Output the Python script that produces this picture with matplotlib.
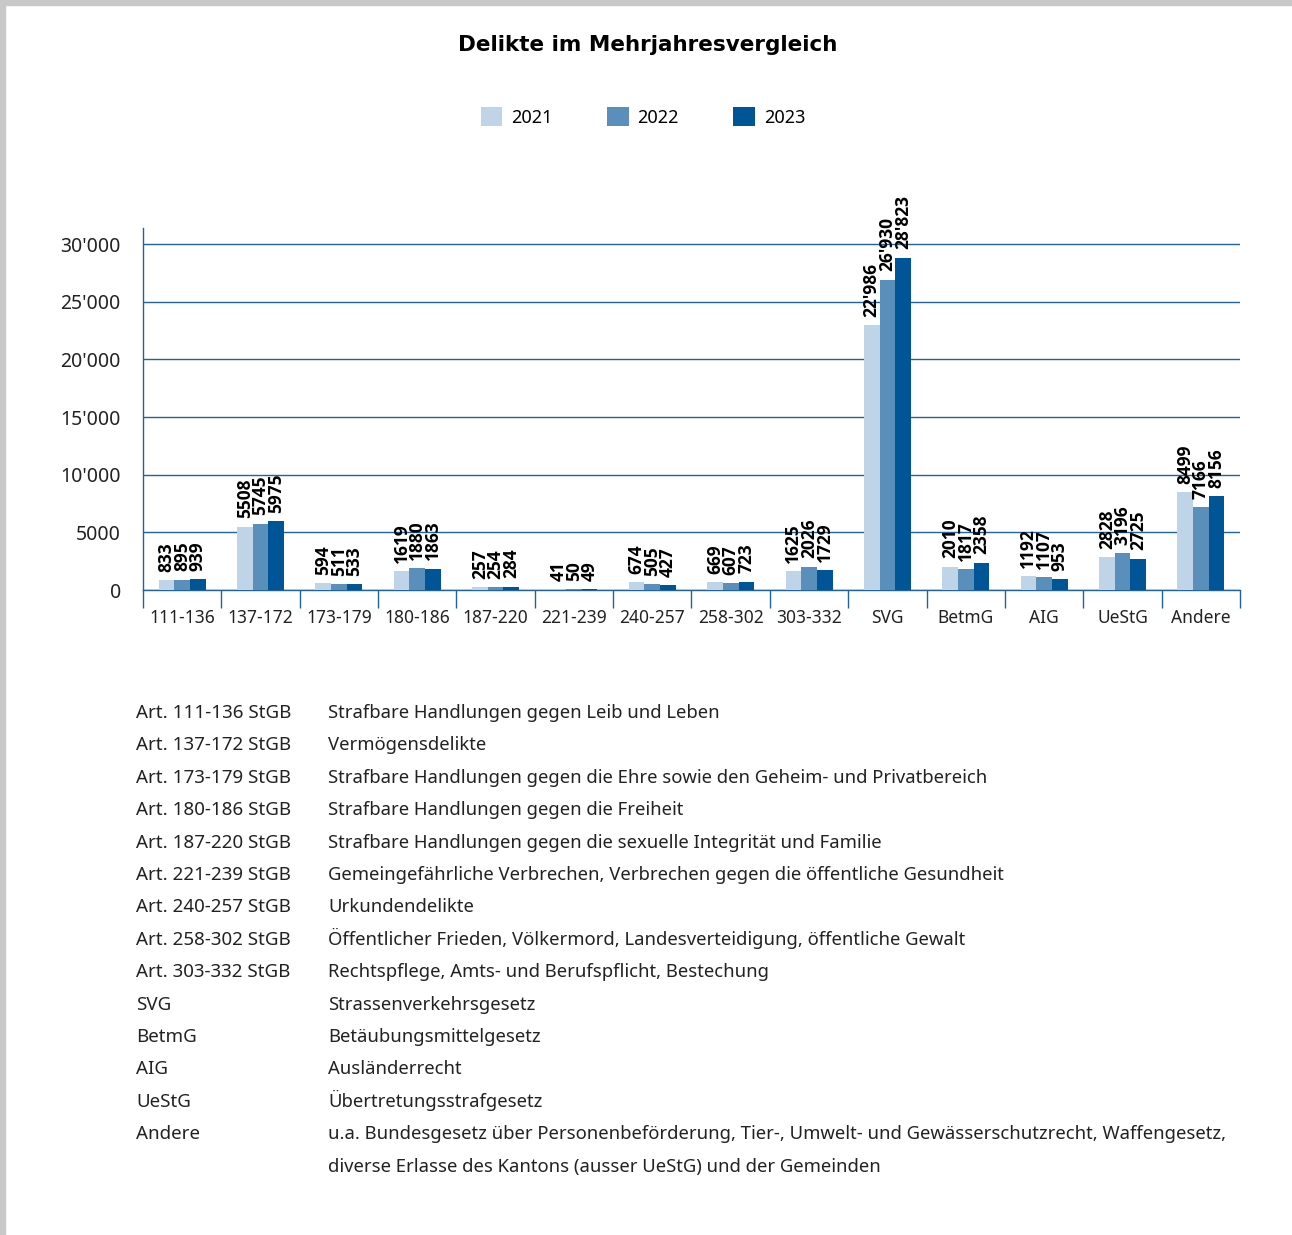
import numpy as np
import matplotlib
matplotlib.use("Agg")
import matplotlib.pyplot as plt
from matplotlib.patches import Rectangle

plt.rcParams['font.family'] = ['Noto Sans', 'DejaVu Sans']
BOLD = ['Open Sans', 'DejaVu Sans']

categories = ["111-136", "137-172", "173-179", "180-186", "187-220", "221-239", "240-257",
              "258-302", "303-332", "SVG", "BetmG", "AIG", "UeStG", "Andere"]
years = ["2021", "2022", "2023"]
v2021 = [833, 5508, 594, 1619, 257, 41, 674, 669, 1625, 22986, 2010, 1192, 2828, 8499]
v2022 = [895, 5745, 511, 1880, 254, 50, 505, 607, 2026, 26930, 1817, 1107, 3196, 7166]
v2023 = [939, 5975, 533, 1863, 284, 49, 427, 723, 1729, 28823, 2358, 953, 2725, 8156]
colors = ["#bfd4e6", "#5b8fbb", "#005596"]

legend_codes = ["Art. 111-136 StGB", "Art. 137-172 StGB", "Art. 173-179 StGB", "Art. 180-186 StGB",
                "Art. 187-220 StGB", "Art. 221-239 StGB", "Art. 240-257 StGB", "Art. 258-302 StGB",
                "Art. 303-332 StGB", "SVG", "BetmG", "AIG", "UeStG", "Andere"]
legend_texts = [
    "Strafbare Handlungen gegen Leib und Leben",
    "Vermögensdelikte",
    "Strafbare Handlungen gegen die Ehre sowie den Geheim- und Privatbereich",
    "Strafbare Handlungen gegen die Freiheit",
    "Strafbare Handlungen gegen die sexuelle Integrität und Familie",
    "Gemeingefährliche Verbrechen, Verbrechen gegen die öffentliche Gesundheit",
    "Urkundendelikte",
    "Öffentlicher Frieden, Völkermord, Landesverteidigung, öffentliche Gewalt",
    "Rechtspflege, Amts- und Berufspflicht, Bestechung",
    "Strassenverkehrsgesetz",
    "Betäubungsmittelgesetz",
    "Ausländerrecht",
    "Übertretungsstrafgesetz",
    "u.a. Bundesgesetz über Personenbeförderung, Tier-, Umwelt- und Gewässerschutzrecht, Waffengesetz,\ndiverse Erlasse des Kantons (ausser UeStG) und der Gemeinden",
]


def fmt(v):
    v = int(round(v))
    if abs(v) >= 10000:
        return "{:,}".format(v).replace(",", "'")
    return str(v)


W, H = 1292, 1235
fig = plt.figure(figsize=(W / 100, H / 100), dpi=100)
fig.patch.set_facecolor("white")
# grey frame at the top and left edge
fig.patches.append(Rectangle((0, 1 - 5 / H), 1, 5 / H, transform=fig.transFigure, color="#c8c8c8", zorder=0))
fig.patches.append(Rectangle((0, 0), 5 / W, 1, transform=fig.transFigure, color="#c8c8c8", zorder=0))

ax = fig.add_axes([143 / W, 1 - 590 / H, 1097 / W, (590 - 228) / H])

x = np.arange(len(categories))
bw = 0.2
blue = "#1f63a3"
series = [v2021, v2022, v2023]
bars = []
for i, (vals, c) in enumerate(zip(series, colors)):
    b = ax.bar(x + (i - 1) * bw, vals, bw, color=c, label=years[i], zorder=3)
    bars.append(b)
    for xi, v in zip(x + (i - 1) * bw, vals):
        ax.annotate(fmt(v), (xi, v), xytext=(0, 6), textcoords="offset points",
                    rotation=90, ha="center", va="bottom", fontsize=12.5,
                    fontweight="bold", family=BOLD, color="black", zorder=4)

ax.set_xlim(-0.5, len(categories) - 0.5)
ax.set_ylim(0, 31400)
ax.set_yticks(range(0, 30001, 5000))
ax.set_yticklabels([fmt(t) for t in range(0, 30001, 5000)], fontsize=14, color="#222222")
ax.tick_params(axis="y", length=0, pad=16)
ax.yaxis.grid(True, color=blue, linewidth=1)
ax.set_axisbelow(True)

ax.set_xticks(x)
ax.set_xticklabels(categories, fontsize=12.5, color="#222222")
ax.set_xticks(np.arange(-0.5, len(categories), 1), minor=True)
ax.tick_params(axis="x", which="major", length=0, pad=14)
ax.tick_params(axis="x", which="minor", length=13, color=blue, width=1)

for s in ["top", "right"]:
    ax.spines[s].set_visible(False)
for s in ["left", "bottom"]:
    ax.spines[s].set_color(blue)
    ax.spines[s].set_linewidth(1)

fig.text(648 / W, 1 - 45 / H, "Delikte im Mehrjahresvergleich", ha="center", va="center",
         fontsize=15.5, fontweight="bold", family="DejaVu Sans", color="black")

fig.legend(handles=bars, labels=years, loc="center", bbox_to_anchor=(643 / W, 1 - 117 / H),
           ncol=3, frameon=False, fontsize=13, handlelength=1.2, handleheight=1.2,
           handletextpad=0.5, columnspacing=3.0)

row0, step = 712, 32.4
row = 0
for code, txt in zip(legend_codes, legend_texts):
    yb = 1 - (row0 + 6 + row * step) / H
    fig.text(136 / W, yb, code, ha="left", va="baseline", fontsize=13.5, color="#222222")
    for line in txt.split("\n"):
        yb = 1 - (row0 + 6 + row * step) / H
        fig.text(328 / W, yb, line, ha="left", va="baseline", fontsize=13.3, color="#222222")
        row += 1

fig.savefig("out.png", dpi=100)
